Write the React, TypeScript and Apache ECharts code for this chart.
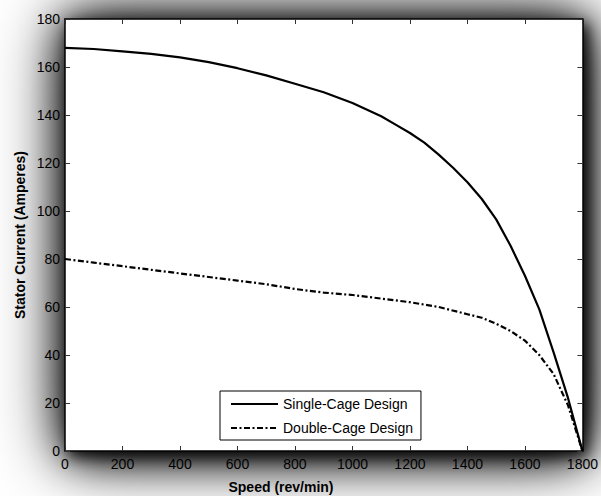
import React, { useEffect, useRef } from "react";
import * as echarts from "echarts";

const singleSpeed = [0, 100, 200, 300, 400, 500, 600, 700, 800, 900, 1000, 1100, 1150, 1200, 1250, 1300, 1350, 1400, 1450, 1500, 1550, 1600, 1650, 1700, 1750, 1800];
const singleCurrent = [168, 167.5, 166.5, 165.5, 164, 162, 159.5, 156.5, 153, 149.5, 145, 139.5, 136, 132.5, 128.5, 123.5, 118, 112, 105, 96.5, 85.5, 73, 59, 41, 22, 0];
const doubleSpeed = [0, 100, 200, 300, 400, 500, 600, 700, 800, 900, 1000, 1100, 1200, 1300, 1400, 1450, 1500, 1550, 1600, 1650, 1700, 1750, 1800];
const doubleCurrent = [80, 78.5, 77, 75.5, 74, 72.5, 71, 69.5, 67.5, 66, 65, 63.5, 62, 60, 57, 55.5, 53, 50, 46, 40, 32, 19, 0];
const xTicks = [0, 200, 400, 600, 800, 1000, 1200, 1400, 1600, 1800];
const yTicks = [0, 20, 40, 60, 80, 100, 120, 140, 160, 180];
const seriesNames = ["Single-Cage Design", "Double-Cage Design"];
const xName = "Speed (rev/min)";
const yName = "Stator Current (Amperes)";
const caption = "Figure (3) Current-speed characteristics";

export default function App() {
  const ref = useRef<HTMLDivElement>(null);
  useEffect(() => {
    document.body.style.margin = "0";
    const chart = echarts.init(ref.current!, null, { renderer: "svg" });
    const font = "'Liberation Sans', Arial, sans-serif";
    const left = 65, top = 19, right = 583, bottom = 451;
    const axisCommon = {
      axisLine: { show: true, onZero: false, lineStyle: { color: "#000", width: 1.5 } },
      axisTick: { show: true, inside: true, length: 5, lineStyle: { color: "#333", width: 1 } },
      splitLine: { show: false },
    };
    const shadowRect = (z: number, blur: number, alpha: number, ox: number, oy: number) => ({
      type: "rect",
      z,
      silent: true,
      shape: { x: left, y: top, width: right - left, height: bottom - top },
      style: { fill: "#fff", shadowBlur: blur, shadowColor: `rgba(0,0,0,${alpha})`, shadowOffsetX: ox, shadowOffsetY: oy },
    });
    chart.setOption({
      animation: false,
      backgroundColor: "#fff",
      grid: { left, top, right: 601 - right, bottom: 496 - bottom, containLabel: false },
      xAxis: [
        {
          type: "value", min: 0, max: 1800, interval: 200, ...axisCommon,
          axisLabel: { color: "#000", fontSize: 14, fontFamily: font, margin: 6, formatter: (v: number) => (xTicks.includes(v) ? String(v) : "") },
        },
        {
          type: "value", position: "top", min: 0, max: 1800, interval: 200, ...axisCommon,
          axisLabel: { show: false },
        },
      ],
      yAxis: [
        {
          type: "value", min: 0, max: 180, interval: 20, ...axisCommon,
          axisLabel: { color: "#000", fontSize: 14, fontFamily: font, margin: 5, formatter: (v: number) => (yTicks.includes(v) ? String(v) : "") },
        },
        {
          type: "value", position: "right", min: 0, max: 180, interval: 20, ...axisCommon,
          axisLabel: { show: false },
        },
      ],
      legend: {
        orient: "vertical",
        left: 220,
        top: 391,
        width: 210,
        backgroundColor: "#fff",
        borderColor: "#000",
        borderWidth: 1,
        borderRadius: 0,
        padding: [6, 8, 5, 10],
        itemWidth: 47,
        itemHeight: 14,
        itemGap: 10,
        itemStyle: { opacity: 0 },
        textStyle: { color: "#000", fontSize: 14, fontFamily: font, padding: [0, 8, 0, 0] },
        data: seriesNames,
      },
      graphic: [
        shadowRect(-12, 70, 1, 0, 2),
        shadowRect(-11, 40, 1, 3, 4),
        shadowRect(-10, 14, 0.85, 4, 5),
        {
          type: "text",
          x: 281, y: 487,
          style: { text: xName, font: `bold 14px ${font}`, fill: "#000", align: "center", verticalAlign: "middle" },
        },
        {
          type: "text",
          x: 20, y: 235, rotation: Math.PI / 2,
          style: { text: yName, font: `bold 14px ${font}`, fill: "#000", align: "center", verticalAlign: "middle" },
        },
        {
          type: "text",
          x: 35, y: 494,
          style: { text: caption, font: `bold 28px 'Liberation Serif', 'Times New Roman', serif`, fill: "#000", align: "left", verticalAlign: "top" },
        },
      ],
      series: [
        {
          name: seriesNames[0],
          type: "line",
          symbol: "none",
          smooth: false,
          lineStyle: { color: "#000", width: 2.2, type: "solid" },
          itemStyle: { color: "#000" },
          data: singleSpeed.map((s, i) => [s, singleCurrent[i]]),
        },
        {
          name: seriesNames[1],
          type: "line",
          symbol: "none",
          smooth: false,
          lineStyle: { color: "#000", width: 2.2, type: [6, 2.5, 2, 2.5] },
          itemStyle: { color: "#000" },
          data: doubleSpeed.map((s, i) => [s, doubleCurrent[i]]),
        },
      ],
    });
    return () => chart.dispose();
  }, []);
  return <div ref={ref} style={{ width: 601, height: 496 }} />;
}
